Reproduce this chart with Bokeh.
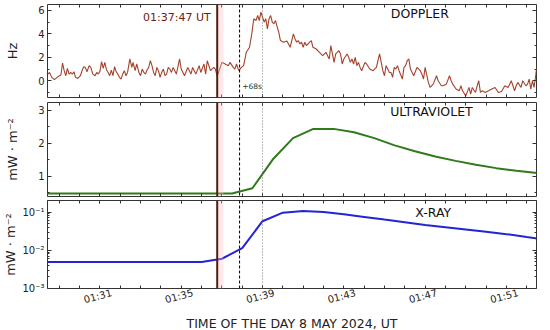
import numpy as np
from bokeh.plotting import figure
from bokeh.models import (Span, BoxAnnotation, Label, LinearAxis, LogAxis, Title,
                          FixedTicker, Range1d, CustomJSTickFormatter)
from bokeh.layouts import column
from bokeh.embed import file_html
from bokeh.resources import INLINE

# ---------------- data (time in minutes after 01:00 UT, 8 May 2024) ----------------
dop_t = [
    28.44, 28.52, 28.63, 28.76, 28.89, 29.00, 29.08, 29.16, 29.24, 29.32,
    29.40, 29.48, 29.56, 29.64, 29.72, 29.80, 29.91, 30.04, 30.12, 30.20,
    30.28, 30.36, 30.47, 30.55, 30.65, 30.76, 30.84, 30.92, 31.00, 31.08,
    31.16, 31.24, 31.32, 31.40, 31.48, 31.56, 31.64, 31.72, 31.80, 31.88,
    31.96, 32.04, 32.12, 32.20, 32.28, 32.36, 32.47, 32.57, 32.63, 32.73,
    32.81, 32.92, 33.00, 33.08, 33.16, 33.24, 33.32, 33.40, 33.48, 33.56,
    33.64, 33.72, 33.80, 33.88, 33.96, 34.04, 34.12, 34.20, 34.28, 34.36,
    34.44, 34.52, 34.60, 34.76, 34.92, 35.00, 35.16, 35.32, 35.48, 35.56,
    35.72, 35.88, 35.96, 36.12, 36.20, 36.28, 36.44, 36.60, 36.68, 36.76,
    36.84, 37.00, 37.16, 37.32, 37.40, 37.56, 37.64, 37.72, 37.83, 37.96,
    38.07, 38.20, 38.36, 38.47, 38.57, 38.68, 38.76, 38.84, 38.92, 39.00,
    39.08, 39.16, 39.24, 39.32, 39.40, 39.48, 39.56, 39.64, 39.72, 39.80,
    39.88, 40.04, 40.20, 40.36, 40.52, 40.60, 40.68, 40.76, 40.84, 40.92,
    41.00, 41.08, 41.16, 41.32, 41.40, 41.48, 41.64, 41.80, 41.96, 42.12,
    42.28, 42.36, 42.44, 42.52, 42.60, 42.76, 42.84, 42.92, 43.00, 43.16,
    43.24, 43.32, 43.40, 43.48, 43.56, 43.64, 43.72, 43.80, 43.88, 44.04,
    44.12, 44.28, 44.44, 44.60, 44.76, 44.84, 44.92, 45.00, 45.08, 45.16,
    45.24, 45.32, 45.40, 45.48, 45.56, 45.64, 45.72, 45.88, 45.96, 46.04,
    46.12, 46.20, 46.28, 46.36, 46.44, 46.60, 46.76, 46.84, 46.92, 47.00,
    47.16, 47.24, 47.40, 47.56, 47.64, 47.80, 47.88, 48.04, 48.20, 48.28,
    48.36, 48.52, 48.68, 48.76, 48.84, 49.00, 49.16, 49.24, 49.32, 49.48,
    49.56, 49.64, 49.72, 49.80, 49.96, 50.12, 50.28, 50.44, 50.60, 50.76,
    50.92, 51.08, 51.16, 51.24, 51.40, 51.48, 51.56, 51.72, 51.80, 51.96,
    52.04, 52.12, 52.20, 52.28, 52.36, 52.44, 52.49,
]
dop_hz = [
    0.57, 0.71, 0.29, 0.09, 0.29, 0.43, 0.49, 1.51, 0.86, 0.43,
    1.06, 0.57, 0.71, 0.57, 0.77, 0.29, 0.20, 0.43, 0.86, 1.20,
    1.14, 0.77, 1.29, 1.14, 0.57, 0.43, 0.71, 0.57, 0.80, 1.63,
    1.06, 1.57, 0.94, 0.71, 0.43, 0.91, 0.43, 1.20, 0.77, 0.57,
    0.29, 0.14, 0.57, 0.86, 0.43, 0.71, 1.86, 1.14, 1.57, 0.86,
    1.43, 0.71, 0.43, 1.00, 0.71, 0.57, 0.94, 1.14, 1.71, 1.29,
    0.71, 0.43, 1.14, 0.86, 0.29, 0.71, 1.00, 0.43, 0.57, 1.14,
    1.00, 0.71, 1.14, 0.57, 1.86, 1.00, 0.43, 1.14, 0.57, 1.14,
    0.57, 1.29, 0.71, 1.43, 0.57, 1.71, 0.86, 1.14, 1.00, 0.43,
    0.71, 1.57, 1.43, 1.29, 1.57, 1.14, 1.00, 1.43, 0.86, 1.14,
    1.29, 2.43, 2.86, 4.00, 5.29, 5.14, 5.57, 5.14, 5.86, 5.43,
    5.00, 5.29, 4.43, 5.29, 5.57, 5.00, 4.86, 5.14, 4.60, 4.14,
    3.43, 3.29, 3.40, 2.86, 4.00, 3.57, 3.29, 3.43, 3.14, 3.29,
    2.86, 3.29, 3.00, 3.29, 3.43, 2.86, 2.71, 2.43, 2.14, 2.43,
    1.86, 3.00, 2.29, 1.57, 2.29, 2.57, 2.29, 1.43, 1.86, 2.29,
    2.00, 1.57, 1.86, 1.43, 2.00, 1.29, 1.57, 1.14, 0.86, 1.57,
    1.43, 1.00, 0.86, 1.14, 2.29, 1.57, 0.86, 0.43, 1.29, 1.00,
    0.71, 0.71, 0.29, 1.14, 1.00, 1.29, 0.86, 0.14, 1.14, 1.29,
    1.71, 1.86, 1.00, 0.71, 0.43, 1.14, 0.86, 0.57, 0.14, 1.14,
    -0.14, -0.57, -0.29, 0.43, 0.00, -0.43, -0.43, -0.29, 0.43, 0.00,
    -0.29, -0.71, -0.86, -0.43, -0.86, -1.29, -0.57, -1.14, -0.57, -1.00,
    -0.43, 0.00, -1.00, -0.86, -1.00, -0.86, -0.71, -0.57, -1.00, -0.91,
    -0.43, -0.57, -0.29, 0.00, -0.86, -0.43, -0.14, -0.57, 0.00, -0.43,
    -0.29, 0.14, -0.71, 0.00, -0.57, 0.43, 1.14,
]

uv_t = [27.5, 28.5, 29.5, 30.5, 31.5, 32.5, 33.5, 34.5, 35.5, 36.5, 37.5,
        38.5, 39.5, 40.5, 41.5, 42.5, 43.5, 44.5, 45.5, 46.5, 47.5, 48.5,
        49.5, 50.5, 51.5, 52.5, 53.5]
uv_val = [0.47, 0.47, 0.47, 0.47, 0.47, 0.47, 0.47, 0.47, 0.47, 0.47, 0.47,
          0.63, 1.50, 2.15, 2.43, 2.43, 2.33, 2.15, 1.93, 1.75, 1.59, 1.46,
          1.34, 1.24, 1.16, 1.09, 1.03]

xr_t = [27, 28, 29, 30, 31, 32, 33, 34, 35, 36, 37, 38, 39, 40, 41, 42,
        43, 44, 45, 46, 47, 48, 49, 50, 51, 52, 53]
xr_val = [0.0049, 0.0049, 0.0049, 0.0049, 0.0049, 0.0049, 0.0049, 0.0049,
          0.0049, 0.0049, 0.0060, 0.0114, 0.0575, 0.096, 0.106, 0.100,
          0.0875, 0.0745, 0.0634, 0.054, 0.046, 0.040, 0.0348, 0.0303,
          0.0264, 0.0221, 0.0186]

tick_minutes = [31, 35, 39, 43, 47, 51]
tick_labels = ["01:31", "01:35", "01:39", "01:43", "01:47", "01:51"]
minor_minutes = list(range(28, 54))
x_title = "TIME OF THE DAY 8 MAY 2024, UT"

event_t = 36.77          # marked event line
event_label = "01:37:47 UT"
band_t = (36.77, 37.08)
dashed_t = 37.87
dotted_t = 39.0
delay_label = "+68s"

FONT = "DejaVu Sans"
DOP_COLOR = "#a3432c"
UV_COLOR = "#2f7a1a"
XR_COLOR = "#2424d4"
EV_COLOR = "#561d0e"
LABEL_SHIFT = 0.58   # rotated tick labels are right-anchored; shift so they centre on the tick

xrange = Range1d(28.42, 52.48)


def blank():
    return CustomJSTickFormatter(code="return ''")


def style_axis(ax, labels, vertical=False, is_x=False):
    ax.axis_line_color = None
    ax.major_tick_in = 3 if is_x else 4
    ax.major_tick_out = 0
    ax.minor_tick_in = 3 if is_x else 2
    ax.minor_tick_out = 0
    ax.major_tick_line_color = "#333333"
    ax.minor_tick_line_color = "#333333"
    ax.major_label_text_font = FONT
    ax.major_label_text_color = "#222222"
    ax.major_label_text_font_size = "10px"
    if labels:
        ax.major_label_standoff = 3
    else:
        ax.formatter = blank()
        ax.major_label_standoff = 0
        if vertical:
            ax.major_label_orientation = "vertical"
    ax.axis_label_text_font = FONT
    ax.axis_label_text_font_style = "normal"
    ax.axis_label_text_font_size = "13px"
    ax.axis_label_text_color = "#222222"
    ax.axis_label_standoff = 1


def x_ticker():
    return FixedTicker(ticks=tick_minutes, minor_ticks=minor_minutes)


def make_fig(height, yr, ytype, top, bottom):
    p = figure(width=542, height=height, x_range=xrange, y_range=yr,
               y_axis_type=ytype, output_backend="svg", toolbar_location=None,
               min_border_left=35, min_border_right=6,
               min_border_top=top, min_border_bottom=bottom)
    p.grid.visible = False
    p.outline_line_color = "#333333"
    p.outline_line_width = 1
    p.background_fill_color = "white"
    p.border_fill_color = "white"
    return p


def add_markers(p):
    p.add_layout(BoxAnnotation(left=band_t[0], right=band_t[1],
                               fill_color="pink", fill_alpha=0.35, line_color=None))
    p.add_layout(Span(location=event_t, dimension="height",
                      line_color=EV_COLOR, line_width=2))
    p.add_layout(Span(location=dashed_t, dimension="height",
                      line_color="black", line_width=1, line_dash="3 2"))
    p.add_layout(Span(location=dotted_t, dimension="height",
                      line_color="#777777", line_width=1, line_dash="1 2"))


def finish_axes(p, y_ticker, log=False, x_labels=False, y_overrides=None):
    xb = p.below[0]
    if x_labels:
        shifted = [t + LABEL_SHIFT for t in tick_minutes]
        xb.ticker = FixedTicker(ticks=shifted, minor_ticks=minor_minutes)
        style_axis(xb, True, is_x=True)
        xb.major_label_overrides = dict(zip(shifted, tick_labels))
        xb.major_label_orientation = 0.26
        xb.major_label_standoff = 4
        xb.major_tick_in = 0
    else:
        xb.ticker = x_ticker()
        style_axis(xb, False, vertical=True, is_x=True)
    xa = LinearAxis(ticker=x_ticker())
    style_axis(xa, False, vertical=True, is_x=True)
    p.add_layout(xa, "above")
    yl = p.left[0]
    yl.ticker = y_ticker()
    if y_overrides:
        yl.major_label_overrides = y_overrides
    style_axis(yl, True)
    yr_ax = LogAxis(ticker=y_ticker()) if log else LinearAxis(ticker=y_ticker())
    style_axis(yr_ax, False)
    p.add_layout(yr_ax, "right")
    return xb, yl


# ---------------- DOPPLER ----------------
p1 = make_fig(100, Range1d(-1.43, 6.51), "linear", 4, 3)
add_markers(p1)
p1.line(dop_t, dop_hz, line_color=DOP_COLOR, line_width=1.1)
_, y1 = finish_axes(p1, lambda: FixedTicker(ticks=[0, 2, 4, 6], minor_ticks=[-1, 1, 3, 5]))
y1.axis_label = "Hz"
y1.axis_label_standoff = 15
p1.add_layout(Label(x=46.74, y=5.74, text="DOPPLER", text_align="center",
                    text_baseline="middle", text_font=FONT,
                    text_font_size="12.5px", text_color="#111111"))
p1.add_layout(Label(x=36.45, y=5.36, text=event_label, text_align="right",
                    text_baseline="middle", text_font=FONT,
                    text_font_size="11px", text_color="#6e1c10"))
p1.add_layout(Label(x=38.0, y=-0.52, text=delay_label, text_align="left",
                    text_baseline="middle", text_font=FONT,
                    text_font_size="7.5px", text_color="#1f3d2b"))

# ---------------- ULTRAVIOLET ----------------
p2 = make_fig(98, Range1d(0.38, 3.23), "linear", 2, 2)
add_markers(p2)
p2.line(uv_t, uv_val, line_color=UV_COLOR, line_width=2)
_, y2 = finish_axes(p2, lambda: FixedTicker(ticks=[1, 2, 3], minor_ticks=[0.5, 1.5, 2.5]))
y2.axis_label = "mW · m⁻²"
y2.axis_label_standoff = 15
p2.add_layout(Label(x=47.31, y=2.95, text="ULTRAVIOLET", text_align="center",
                    text_baseline="middle", text_font=FONT,
                    text_font_size="12.5px", text_color="#111111"))

# ---------------- X-RAY ----------------
log_minor = [k * 10.0 ** e for e in (-3, -2, -1) for k in range(2, 10)]
p3 = make_fig(132, Range1d(0.001, 0.2), "log", 2, 34)
add_markers(p3)
p3.line(xr_t, xr_val, line_color=XR_COLOR, line_width=2)
x3, y3 = finish_axes(p3, lambda: FixedTicker(ticks=[0.001, 0.01, 0.1], minor_ticks=log_minor),
                     log=True, x_labels=True,
                     y_overrides={0.001: "10⁻³", 0.01: "10⁻²", 0.1: "10⁻¹"})
y3.axis_label = "mW · m⁻²"
p3.add_layout(Title(text=x_title, align="center", standoff=0, offset=0,
                    text_font=FONT, text_font_size="12.5px",
                    text_font_style="normal", text_color="#222222"), "below")
p3.add_layout(Label(x=47.4, y=0.1, text="X-RAY", text_align="center",
                    text_baseline="middle", text_font=FONT,
                    text_font_size="12.5px", text_color="#111111"))

layout = column(p1, p2, p3, spacing=0)

open("out.html", "w").write(file_html(layout, INLINE))
